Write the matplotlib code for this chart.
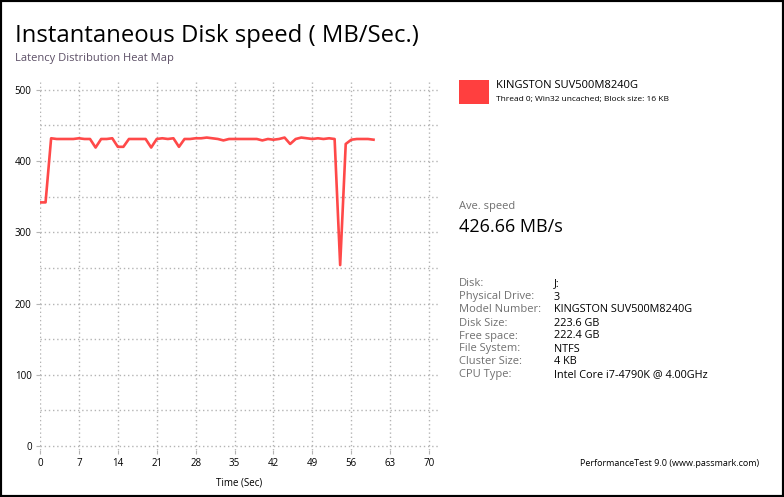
import matplotlib
matplotlib.use('Agg')
import matplotlib.pyplot as plt
from matplotlib.patches import Rectangle
from matplotlib.ticker import MultipleLocator

matplotlib.rcParams['font.family'] = ['Open Sans', 'DejaVu Sans']

# data (one sample per second)
seconds = list(range(61))
speed = [342, 342, 432, 431, 431, 431, 431, 432, 431, 431,
         419, 431, 431, 432, 420, 420, 431, 431, 431, 431,
         419, 431, 432, 431, 432, 420, 431, 431, 432, 432,
         433, 432, 431, 429, 431, 431, 431, 431, 431, 431,
         429, 431, 430, 431, 433, 424, 431, 433, 432, 431,
         432, 431, 432, 431, 254, 424, 430, 431, 431, 431, 430]

drive_name = 'KINGSTON SUV500M8240G'
run_info = 'Thread 0; Win32 uncached; Block size: 16 KB'
ave_speed = '426.66 MB/s'
info_labels = ['Disk:', 'Physical Drive:', 'Model Number:', 'Disk Size:',
               'Free space:', 'File System:', 'Cluster Size:', 'CPU Type:']
info_values = ['J:', '3', 'KINGSTON SUV500M8240G', '223.6 GB',
               '222.4 GB', 'NTFS', '4 KB', 'Intel Core i7-4790K @ 4.00GHz']

W, H = 784, 497
line_color = '#ff3f3f'

fig = plt.figure(figsize=(W / 100, H / 100), dpi=100)


def px(x, y):
    # pixel position -> figure fraction
    return x / W, 1 - y / H


# axes placed by pixels
l, r, t, b = 40, 438, 82, 450
ax = fig.add_axes([l / W, 1 - b / H, (r - l) / W, (b - t) / H])
ax.plot(seconds, speed, color=line_color, lw=1.9, alpha=0.95)

ax.set_xlim(0, 71.6)
ax.set_ylim(-5.6, 511)
ax.xaxis.set_major_locator(MultipleLocator(7))
ax.yaxis.set_major_locator(MultipleLocator(100))
ax.yaxis.set_minor_locator(MultipleLocator(50))
ax.grid(True, which='both', color='#b4b4b4', ls=(0, (1, 2)), lw=1)
ax.set_axisbelow(True)
for s in ax.spines.values():
    s.set_visible(False)
ax.tick_params(axis='both', labelsize=7, length=3, color='#b4b4b4', pad=3)
ax.tick_params(axis='y', which='minor', length=0)
ax.set_xlabel('Time (Sec)', fontsize=7, labelpad=6)

# titles
fig.text(*px(15, 36), 'Instantaneous Disk speed ( MB/Sec.)', fontsize=17.2,
         va='center', ha='left')
fig.text(*px(15, 58), 'Latency Distribution Heat Map', fontsize=8,
         color='#5c4f66', va='center', ha='left')

# legend block
fig.patches.append(Rectangle(px(459, 104), 30 / W, 24 / H, transform=fig.transFigure,
                             facecolor=line_color, edgecolor='none'))
fig.text(*px(496, 86), drive_name, fontsize=8, va='center', ha='left')
fig.text(*px(496, 100), run_info, fontsize=6, va='center', ha='left')

# average speed
fig.text(*px(459, 207), 'Ave. speed', fontsize=8, color='#707070', va='center')
fig.text(*px(459, 227), ave_speed, fontsize=13, va='center')

# disk info table
for i, (lab, val) in enumerate(zip(info_labels, info_values)):
    y = 284 + i * 13
    fig.text(*px(459, y), lab, fontsize=8, color='#707070', va='center')
    fig.text(*px(554, y), val, fontsize=7.8, color='black', va='center')

fig.text(*px(580, 463), 'PerformanceTest 9.0 (www.passmark.com)', fontsize=6.5,
         va='center')

# frame round the picture
fig.patches.append(Rectangle((0, 0), 1, 1, transform=fig.transFigure,
                             fill=False, edgecolor='black', lw=3))

fig.savefig('out.png', dpi=100)
